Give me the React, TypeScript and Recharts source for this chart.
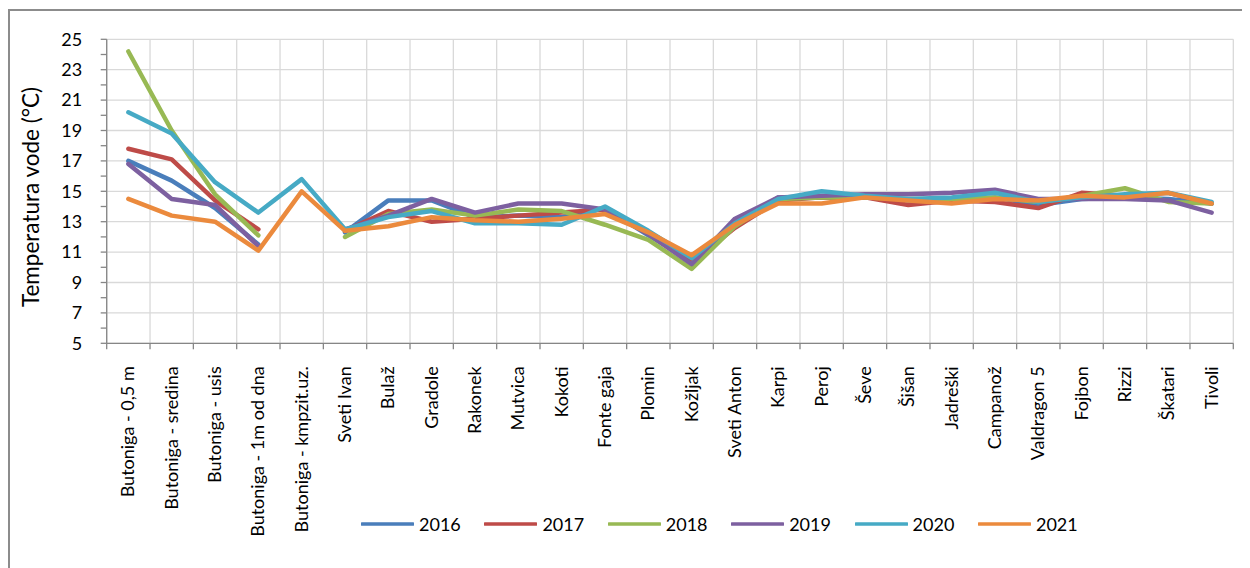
import React from 'react';
import { LineChart, Line, XAxis, YAxis, CartesianGrid, Legend } from 'recharts';

const categories = [
  'Butoniga - 0,5 m',
  'Butoniga - sredina',
  'Butoniga - usis',
  'Butoniga - 1m od dna',
  'Butoniga - kmpzit.uz.',
  'Sveti Ivan',
  'Bulaž',
  'Gradole',
  'Rakonek',
  'Mutvica',
  'Kokoti',
  'Fonte gaja',
  'Plomin',
  'Kožljak',
  'Sveti Anton',
  'Karpi',
  'Peroj',
  'Ševe',
  'Šišan',
  'Jadreški',
  'Campanož',
  'Valdragon 5',
  'Fojbon',
  'Rizzi',
  'Škatari',
  'Tivoli',
];

const years = ['2016', '2017', '2018', '2019', '2020', '2021'];

const v2016 = [17.0, 15.7, 13.9, 11.5, null, 12.3, 14.4, 14.4, 13.3, 13.4, 13.3, 13.9, 12.1, 10.4, 12.8, 14.6, 14.6, 14.6, 14.4, 14.4, 14.6, 14.1, 14.5, 14.6, 14.5, 14.2];
const v2017 = [17.8, 17.1, 14.4, 12.5, null, 12.4, 13.7, 13.0, 13.2, 13.4, 13.6, 13.8, 12.2, 10.3, 12.6, 14.4, 14.6, 14.6, 14.1, 14.4, 14.3, 13.9, 14.9, 14.7, 14.9, 14.2];
const v2018 = [24.2, 19.0, 14.8, 12.1, null, 12.0, 13.5, 13.8, 13.4, 13.8, 13.7, 12.8, 11.8, 9.9, 12.7, 14.5, 14.6, 14.6, 14.5, 14.5, 14.6, 14.3, 14.7, 15.2, 14.3, 14.2];
const v2019 = [16.8, 14.5, 14.1, 11.4, null, 12.5, 13.4, 14.5, 13.6, 14.2, 14.2, 13.8, 12.2, 10.2, 13.2, 14.6, 14.7, 14.8, 14.8, 14.9, 15.1, 14.5, 14.5, 14.5, 14.4, 13.6];
const v2020 = [20.2, 18.8, 15.6, 13.6, 15.8, 12.5, 13.3, 13.7, 12.9, 12.9, 12.8, 14.0, 12.4, 10.6, 12.9, 14.5, 15.0, 14.7, 14.5, 14.6, 14.9, 14.3, 14.6, 14.8, 14.9, 14.3];
const v2021 = [14.5, 13.4, 13.0, 11.1, 15.0, 12.4, 12.7, 13.3, 13.1, 13.0, 13.2, 13.5, 12.3, 10.8, 12.8, 14.2, 14.2, 14.6, 14.4, 14.2, 14.5, 14.4, 14.7, 14.6, 14.9, 14.2];

const seriesValues = [v2016, v2017, v2018, v2019, v2020, v2021];
const colors = ['#4A7EBB', '#BE4B48', '#98B954', '#7D60A0', '#46AAC5', '#EB8A3D'];

const yTicks = [5, 6, 7, 8, 9, 10, 11, 12, 13, 14, 15, 16, 17, 18, 19, 20, 21, 22, 23, 24, 25];
const yGridValues = [5, 7, 9, 11, 13, 15, 17, 19, 21, 23, 25];

const data = categories.map((name, i) => {
  const row: Record<string, string | number | null> = { name };
  years.forEach((y, s) => {
    row['y' + y] = seriesValues[s][i];
  });
  return row;
});

const CHART_W = 1242;
const CHART_H = 560;
const MARGIN = { top: 31.3, right: 16.7, bottom: 24.7, left: 0 };
const Y_AXIS_W = 98.7;
const PLOT_W = CHART_W - MARGIN.left - MARGIN.right - Y_AXIS_W;
const STEP = PLOT_W / categories.length;
const FONT = 'Lato, "Open Sans", sans-serif';
const AXIS_COLOR = '#868686';

function XTick(props: any) {
  const { x, y, payload, index } = props;
  const half = STEP / 2;
  const tx = x + 6;
  const ty = y + 23;
  return (
    <g>
      <line x1={x - half} y1={y} x2={x - half} y2={y + 6} stroke={AXIS_COLOR} strokeWidth={1.3} />
      {index === categories.length - 1 && (
        <line x1={x + half} y1={y} x2={x + half} y2={y + 6} stroke={AXIS_COLOR} strokeWidth={1.3} />
      )}
      <text
        x={tx}
        y={ty}
        transform={`rotate(-90, ${tx}, ${ty})`}
        textAnchor="end"
        fontSize={18}
        fontFamily={FONT}
        fill="#000"
      >
        {payload.value}
      </text>
    </g>
  );
}

function renderLegend(props: any) {
  const payload = props.payload || [];
  return (
    <div style={{ display: 'flex', flexDirection: 'row', alignItems: 'center', height: 24 }}>
      {payload.map((entry: any) => (
        <div key={entry.value} style={{ display: 'flex', alignItems: 'center', width: 123.4, flex: 'none' }}>
          <svg width={53} height={8} style={{ display: 'block' }}>
            <line x1={1} y1={4} x2={52} y2={4} stroke={entry.color} strokeWidth={3.5} strokeLinecap="round" />
          </svg>
          <span style={{ marginLeft: 5, fontSize: 18, fontFamily: FONT, color: '#000', lineHeight: '24px' }}>
            {entry.value}
          </span>
        </div>
      ))}
    </div>
  );
}

function YLabel() {
  const x = 31;
  const y = 189;
  return (
    <text
      x={x}
      y={y}
      transform={`rotate(-90, ${x}, ${y})`}
      textAnchor="middle"
      fontSize={22.5}
      fontFamily={FONT}
      fill="#000"
    >
      Temperatura vode (°C)
    </text>
  );
}

export default function App() {
  return (
    <div style={{ position: 'relative', width: CHART_W, height: CHART_H, fontFamily: FONT }}>
      <div
        style={{
          position: 'absolute',
          left: 0,
          top: 1,
          width: CHART_W + 10,
          height: CHART_H + 10,
          borderLeft: '2px solid #8c8c8c',
          borderTop: '2px solid #8c8c8c',
          boxSizing: 'border-box',
        }}
      />
      <div style={{ position: 'absolute', left: 0, top: 0 }}>
        <LineChart width={CHART_W} height={CHART_H} data={data} margin={MARGIN}>
          <CartesianGrid
            stroke="#d9d9d9"
            strokeWidth={1.3}
            horizontalValues={yGridValues}
            verticalCoordinatesGenerator={({ offset }: any) =>
              Array.from({ length: categories.length + 1 }, (_, i) => offset.left + (i * offset.width) / categories.length)
            }
          />
          <XAxis
            dataKey="name"
            type="category"
            interval={0}
            height={200}
            padding={{ left: STEP / 2, right: STEP / 2 }}
            tickSize={0}
            tickMargin={0}
            tickLine={false}
            axisLine={{ stroke: AXIS_COLOR, strokeWidth: 1.3 }}
            tick={<XTick />}
          />
          <YAxis
            width={Y_AXIS_W}
            domain={[5, 25]}
            ticks={yTicks}
            interval={0}
            allowDataOverflow
            tickSize={6}
            tickMargin={18.5}
            tickLine={{ stroke: AXIS_COLOR, strokeWidth: 1.3 }}
            axisLine={{ stroke: AXIS_COLOR, strokeWidth: 1.3 }}
            tick={{ fontSize: 18, fontFamily: FONT, fill: '#000' }}
            tickFormatter={(v: number) => (v % 2 === 1 ? String(v) : '')}
            label={() => <YLabel />}
          />
          <Legend
            verticalAlign="middle"
            layout="horizontal"
            wrapperStyle={{ left: 353, top: 504, width: 800, height: 24 }}
            content={renderLegend}
          />
          {years.map((y, s) => (
            <Line
              key={y}
              type="linear"
              dataKey={'y' + y}
              name={y}
              stroke={colors[s]}
              strokeWidth={4.5}
              strokeLinecap="round"
              strokeLinejoin="round"
              dot={false}
              activeDot={false}
              isAnimationActive={false}
              connectNulls={false}
            />
          ))}
        </LineChart>
      </div>
    </div>
  );
}
